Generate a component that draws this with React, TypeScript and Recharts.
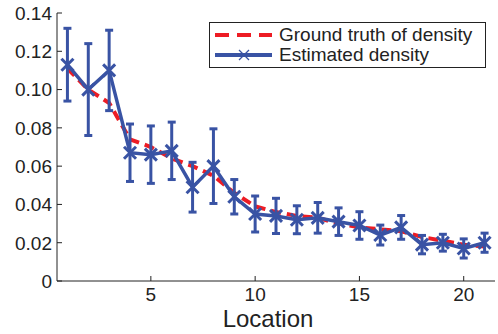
import React from 'react';
import { ComposedChart, Line, XAxis, YAxis, ErrorBar, Legend } from 'recharts';

const locations = [1, 2, 3, 4, 5, 6, 7, 8, 9, 10, 11, 12, 13, 14, 15, 16, 17, 18, 19, 20, 21];
const groundTruth = [0.111, 0.1, 0.093, 0.074, 0.07, 0.064, 0.06, 0.055, 0.046, 0.039, 0.036, 0.034, 0.033, 0.03, 0.028, 0.027, 0.026, 0.023, 0.021, 0.019, 0.018];
const estimated = [0.113, 0.1, 0.11, 0.067, 0.066, 0.068, 0.049, 0.06, 0.044, 0.035, 0.034, 0.032, 0.033, 0.031, 0.029, 0.024, 0.028, 0.019, 0.02, 0.017, 0.02];
const errors = [0.019, 0.024, 0.021, 0.015, 0.015, 0.015, 0.013, 0.0195, 0.009, 0.0094, 0.0092, 0.0073, 0.008, 0.0072, 0.0072, 0.0052, 0.0062, 0.0048, 0.0044, 0.005, 0.005];
const xTicks = [5, 10, 15, 20];
const yTicks = [0, 0.02, 0.04, 0.06, 0.08, 0.1, 0.12, 0.14];
const seriesNames = ['Ground truth of density', 'Estimated density'];
const xLabel = 'Location';

const BLUE = '#3953A4';
const RED = '#ED1C24';
const AXIS = '#222';
const FONT = '"Liberation Sans", Arial, sans-serif';

const data = locations.map((loc, i) => ({
  loc,
  truth: groundTruth[i],
  est: estimated[i],
  err: errors[i],
}));

const fmtY = (v: number) => (v === 0 ? '0' : v.toFixed(2));

const LeftTick = (props: any) => {
  const { x, y, payload } = props;
  return (
    <g>
      <line x1={x} x2={x + 5} y1={y} y2={y} stroke={AXIS} strokeWidth={1} />
      <text x={x - 5} y={y} dy="0.36em" textAnchor="end" fontSize={19} fill={AXIS} fontFamily={FONT}>
        {fmtY(payload.value)}
      </text>
    </g>
  );
};

const RightTick = (props: any) => {
  const { x, y } = props;
  return <line x1={x} x2={x - 5} y1={y} y2={y} stroke={AXIS} strokeWidth={1} />;
};

const BottomTick = (props: any) => {
  const { x, y, payload } = props;
  return (
    <g>
      <line x1={x} x2={x} y1={y} y2={y - 5} stroke={AXIS} strokeWidth={1} />
      <text x={x} y={y + 20} textAnchor="middle" fontSize={19} fill={AXIS} fontFamily={FONT}>
        {payload.value}
      </text>
    </g>
  );
};

const TopTick = (props: any) => {
  const { x, y } = props;
  return <line x1={x} x2={x} y1={y} y2={y + 5} stroke={AXIS} strokeWidth={1} />;
};

const XDot = (props: any) => {
  const { cx, cy, index } = props;
  if (cx == null || cy == null) return <g key={index} />;
  const s = 6;
  return (
    <g key={index}>
      <line x1={cx - s} y1={cy - s} x2={cx + s} y2={cy + s} stroke={BLUE} strokeWidth={3} />
      <line x1={cx - s} y1={cy + s} x2={cx + s} y2={cy - s} stroke={BLUE} strokeWidth={3} />
    </g>
  );
};

const XAxisLabel = (props: any) => {
  const vb = props.viewBox || {};
  const cx = (vb.x ?? 0) + (vb.width ?? 0) / 2 - 8;
  const by = (vb.y ?? 0) + (vb.height ?? 0) - 7;
  return (
    <text x={cx} y={by} textAnchor="middle" fontSize={24} fill={AXIS} fontFamily={FONT}>
      {xLabel}
    </text>
  );
};

const labelStyle: React.CSSProperties = {
  display: 'inline-block',
  whiteSpace: 'nowrap',
  height: 20,
  lineHeight: '20px',
  overflow: 'visible',
};

const renderLegend = () => (
  <div
    style={{
      border: `1px solid ${AXIS}`,
      background: '#fff',
      width: 277,
      height: 46,
      boxSizing: 'border-box',
      fontFamily: FONT,
      fontSize: 19,
      color: AXIS,
      paddingTop: 1,
    }}
  >
    <div style={{ display: 'flex', alignItems: 'center', height: 21 }}>
      <svg width={69} height={20} style={{ flex: 'none' }}>
        <line x1={5} x2={62} y1={10} y2={10} stroke={RED} strokeWidth={4} strokeDasharray="14 8" />
      </svg>
      <span style={labelStyle}>{seriesNames[0]}</span>
    </div>
    <div style={{ display: 'flex', alignItems: 'center', height: 20 }}>
      <svg width={69} height={20} style={{ flex: 'none' }}>
        <line x1={5} x2={62} y1={10} y2={10} stroke={BLUE} strokeWidth={4} />
        <line x1={29} x2={39} y1={5} y2={15} stroke={BLUE} strokeWidth={1.2} />
        <line x1={29} x2={39} y1={15} y2={5} stroke={BLUE} strokeWidth={1.2} />
      </svg>
      <span style={labelStyle}>{seriesNames[1]}</span>
    </div>
  </div>
);

export default function App() {
  return (
    <div style={{ position: 'absolute', left: 0, top: 0, width: 498, height: 334, background: '#fff' }}>
      <ComposedChart width={498} height={334} data={data} margin={{ top: 13, right: 3, bottom: 0, left: 0 }}>
        <XAxis
          dataKey="loc"
          type="number"
          domain={[0.5, 21.5]}
          ticks={xTicks}
          interval={0}
          height={53}
          tickSize={0}
          tickMargin={0}
          tickLine={false}
          tick={<BottomTick />}
          axisLine={{ stroke: AXIS, strokeWidth: 1 }}
          allowDataOverflow
          label={<XAxisLabel />}
        />
        <XAxis
          xAxisId="top"
          orientation="top"
          dataKey="loc"
          type="number"
          domain={[0.5, 21.5]}
          ticks={xTicks}
          interval={0}
          height={0}
          tickSize={0}
          tickMargin={0}
          tickLine={false}
          tick={<TopTick />}
          axisLine={{ stroke: AXIS, strokeWidth: 1 }}
          allowDataOverflow
        />
        <YAxis
          type="number"
          domain={[0, 0.14]}
          ticks={yTicks}
          interval={0}
          width={57}
          tickSize={0}
          tickMargin={0}
          tickLine={false}
          tick={<LeftTick />}
          axisLine={{ stroke: AXIS, strokeWidth: 1 }}
          allowDataOverflow
        />
        <YAxis
          yAxisId="right"
          orientation="right"
          type="number"
          domain={[0, 0.14]}
          ticks={yTicks}
          interval={0}
          width={0}
          tickSize={0}
          tickMargin={0}
          tickLine={false}
          tick={<RightTick />}
          axisLine={{ stroke: AXIS, strokeWidth: 1 }}
          allowDataOverflow
        />
        <Legend
          layout="vertical"
          align="center"
          verticalAlign="middle"
          content={renderLegend}
          wrapperStyle={{ position: 'absolute', left: 209, top: 22, width: 277, height: 46 }}
        />
        <Line
          name={seriesNames[0]}
          dataKey="truth"
          stroke={RED}
          strokeWidth={4}
          strokeDasharray="10 6"
          dot={false}
          isAnimationActive={false}
        />
        <Line
          name={seriesNames[1]}
          dataKey="est"
          stroke={BLUE}
          strokeWidth={3.5}
          dot={<XDot />}
          isAnimationActive={false}
        >
          <ErrorBar dataKey="err" direction="y" width={4} strokeWidth={3} stroke={BLUE} />
        </Line>
      </ComposedChart>
    </div>
  );
}
